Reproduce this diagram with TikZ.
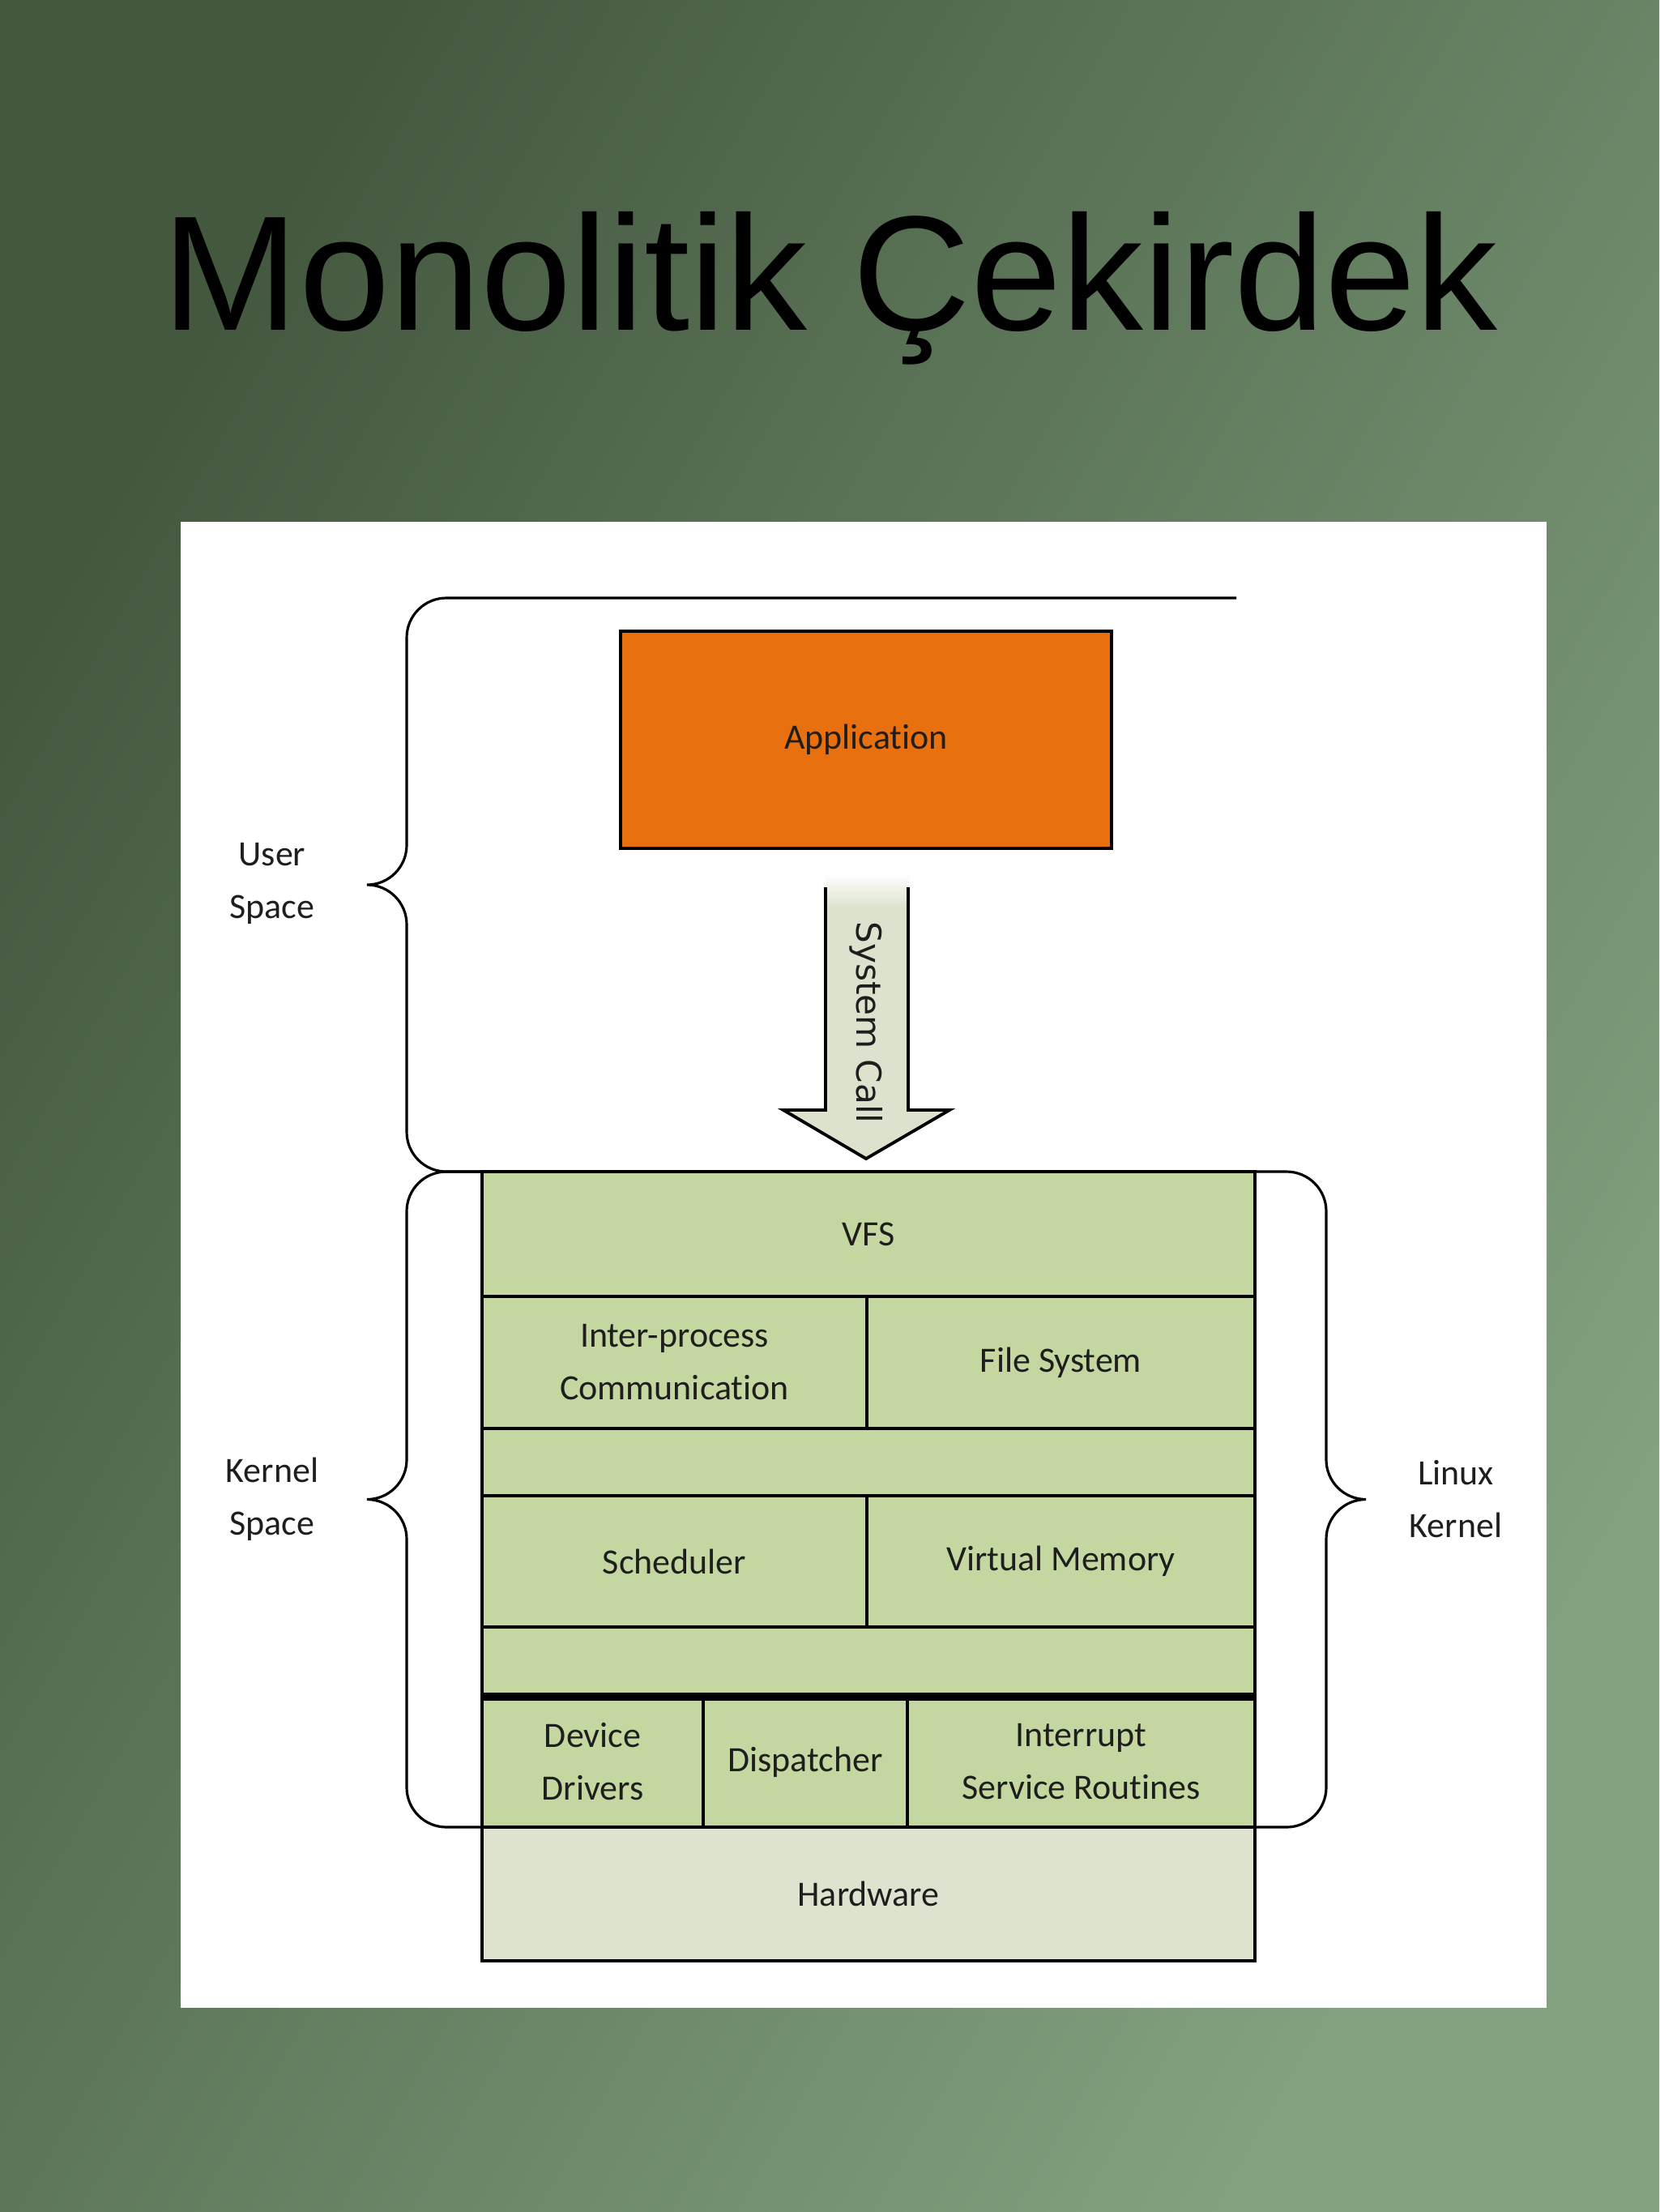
\documentclass[tikz,border=0pt]{standalone}
\usepackage{fontspec}
\setmainfont{Carlito}[Ligatures=NoCommon]
\newfontfamily\titlefont{Liberation Sans}
\newfontfamily\callfont{DejaVu Sans}
\usetikzlibrary{positioning}
\definecolor{bgdark}{RGB}{68,88,64}
\definecolor{bglight}{RGB}{131,163,128}
\definecolor{appfill}{RGB}{232,112,14}
\definecolor{kfill}{RGB}{197,215,160}
\definecolor{hwfill}{RGB}{222,227,207}
\definecolor{callfill}{RGB}{221,226,207}
\definecolor{txt}{RGB}{30,30,30}

\begin{document}
\begin{tikzpicture}[
    font=\fontsize{12.5}{18.5}\selectfont,
    cell/.style={draw, line width=1.1pt, fill=kfill, anchor=north west, inner sep=0pt, outer sep=0pt, align=center, text=txt},
    brace/.style={line width=0.9pt},
    side/.style={align=center, text=txt}
]
\useasboundingbox (0,0) rectangle (20.48,-27.30);
\shade[top color=bgdark, bottom color=bglight, shading angle=60] (0,0) rectangle (20.48,-27.30);
\fill[white] (2.23,-6.44) rectangle (19.09,-24.78);

% title
\node[font=\titlefont\fontsize{57.4}{60}\selectfont, anchor=base] (title) at (10.25,-4.07) {Monolitik Çekirdek};

% user space
\node[draw, line width=1.1pt, fill=appfill, minimum width=6.06cm, minimum height=2.68cm, text=txt] (app) at (10.69,-9.13) {Application};

% system call arrow
\fill[callfill] (10.19,-10.77) -- (10.19,-13.70) -- (9.67,-13.70) -- (10.69,-14.30) -- (11.72,-13.70) -- (11.21,-13.70) -- (11.21,-10.77) -- cycle;
\shade[top color=white, bottom color=callfill] (10.19,-10.77) rectangle (11.21,-11.20);
\draw[line width=1.1pt] (10.19,-10.95) -- (10.19,-13.70) -- (9.67,-13.70) -- (10.69,-14.30) -- (11.72,-13.70) -- (11.21,-13.70) -- (11.21,-10.95);
\node[rotate=-90, font=\callfont\fontsize{12}{14}\selectfont, text=txt] (call) at (10.69,-12.62) {System Call};

% kernel stack
\node[cell, minimum width=9.54cm, minimum height=1.54cm] (vfs) at (5.95,-14.46) {VFS};
\node[cell, minimum width=4.75cm, minimum height=1.63cm] (ipc) at (vfs.south west) {Inter-process\\Communication};
\node[cell, minimum width=4.79cm, minimum height=1.63cm] (fs) at (ipc.north east) {File System};
\node[cell, minimum width=9.54cm, minimum height=0.83cm] (gap1) at (ipc.south west) {};
\node[cell, minimum width=4.75cm, minimum height=1.62cm] (sched) at (gap1.south west) {Scheduler};
\node[cell, minimum width=4.79cm, minimum height=1.62cm] (vm) at (sched.north east) {Virtual Memory};
\node[cell, minimum width=9.54cm, minimum height=0.86cm] (gap2) at (sched.south west) {};
\node[cell, minimum width=2.73cm, minimum height=1.61cm] (dd) at (gap2.south west) {Device\\Drivers};
\node[cell, minimum width=2.52cm, minimum height=1.61cm] (disp) at (dd.north east) {Dispatcher};
\node[cell, minimum width=4.29cm, minimum height=1.61cm] (isr) at (disp.north east) {Interrupt\\Service Routines};
\node[cell, fill=hwfill, minimum width=9.54cm, minimum height=1.65cm] (hw) at (dd.south west) {Hardware};
\draw[line width=2.8pt] (gap2.south west) -- (gap2.south east);

% braces
\draw[brace] (15.26,-7.38) -- (5.51,-7.38) arc[start angle=90, end angle=180, radius=0.49]
  -- (5.02,-10.43) arc[start angle=0, end angle=-90, radius=0.49] arc[start angle=90, end angle=0, radius=0.49]
  -- (5.02,-13.97) arc[start angle=180, end angle=270, radius=0.49] -- (vfs.north west);
\draw[brace] (vfs.north west) -- (5.51,-14.46) arc[start angle=90, end angle=180, radius=0.49]
  -- (5.02,-18.015) arc[start angle=0, end angle=-90, radius=0.49] arc[start angle=90, end angle=0, radius=0.49]
  -- (5.02,-22.06) arc[start angle=180, end angle=270, radius=0.49] -- (hw.north west);
\draw[brace] (vfs.north east) -- (15.88,-14.46) arc[start angle=90, end angle=0, radius=0.49]
  -- (16.37,-18.015) arc[start angle=180, end angle=270, radius=0.49] arc[start angle=90, end angle=180, radius=0.49]
  -- (16.37,-22.06) arc[start angle=0, end angle=-90, radius=0.49] -- (hw.north east);

\node[side] (user) at (3.36,-10.90) {User\\Space};
\node[side] (kspace) at (3.36,-18.50) {Kernel\\Space};
\node[side] (linux) at (17.97,-18.50) {Linux\\Kernel};

\end{tikzpicture}
\end{document}
